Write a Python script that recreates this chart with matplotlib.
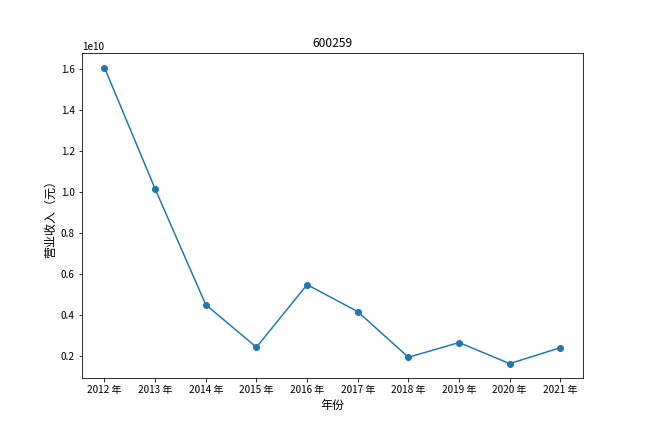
import matplotlib
matplotlib.use("Agg")
import matplotlib.pyplot as plt

plt.rcParams['font.family'] = ['Noto Sans CJK SC', 'DejaVu Sans']
plt.rcParams['axes.unicode_minus'] = False

stock_code = "600259"
years = ["2012 年", "2013 年", "2014 年", "2015 年", "2016 年",
         "2017 年", "2018 年", "2019 年", "2020 年", "2021 年"]
revenue = [1.608e10, 1.015e10, 0.449e10, 0.241e10, 0.547e10,
           0.415e10, 0.192e10, 0.264e10, 0.161e10, 0.239e10]

fig, ax = plt.subplots(figsize=(9, 6), dpi=72)
fig.subplots_adjust(left=0.126, right=0.9, top=0.878, bottom=0.124)
ax.plot(years, revenue, marker="o")
ax.set_title(stock_code, fontsize=12)
ax.set_xlabel("年份", fontsize=12)
ax.set_ylabel("营业收入（元）", fontsize=12)
ax.tick_params(labelsize=10)

fig.savefig("out.png", dpi=72)
